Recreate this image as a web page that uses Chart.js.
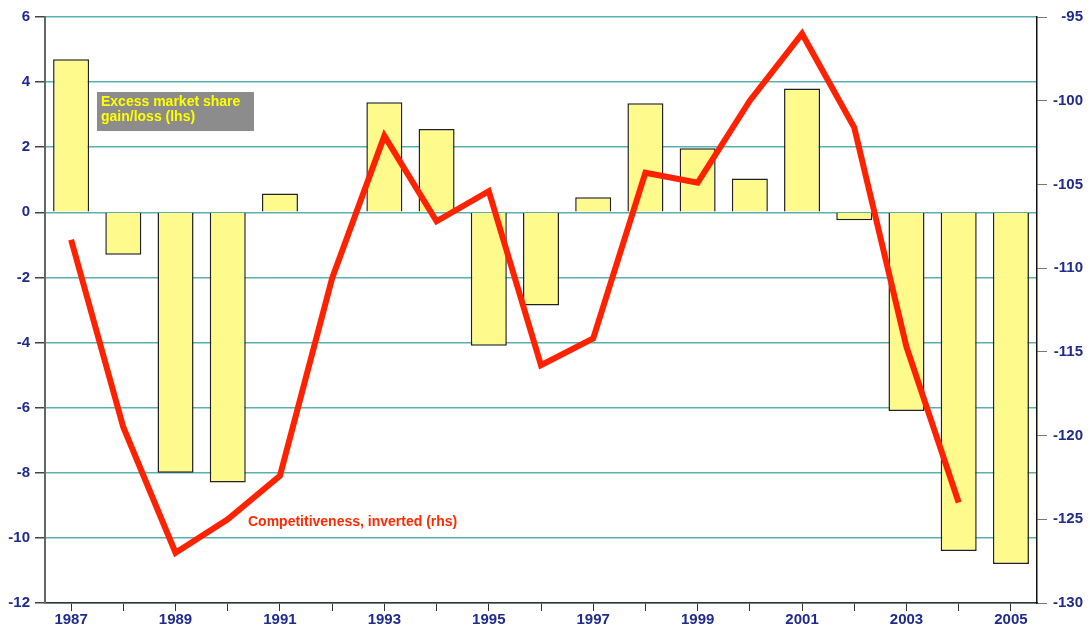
<!DOCTYPE html>
<html>
<head>
<meta charset="utf-8">
<script src="https://cdn.jsdelivr.net/npm/chart.js@4/dist/chart.umd.min.js"></script>
<style>
  body { margin: 0; background: #fff; }
  #wrap { width: 1090px; height: 628px; }
</style>
</head>
<body>
<div id="wrap"><canvas id="share-chart"></canvas></div>
<script>
// chart data
var years = ["1987", "1988", "1989", "1990", "1991", "1992", "1993", "1994", "1995", "1996",
  "1997", "1998", "1999", "2000", "2001", "2002", "2003", "2004", "2005"];
var excessShare = [4.7, -1.3, -8.0, -8.3, 0.58, -0.02, 3.38, 2.56, -4.1, -2.86,
  0.46, 3.35, 1.97, 1.04, 3.8, -0.24, -6.1, -10.4, -10.8];
var competitiveness = [-108.3, -119.5, -127.0, -125.0, -122.4, -110.6, -102.1, -107.2, -105.4, -115.8,
  -114.2, -104.3, -104.9, -100.0, -96.0, -101.6, -114.7, -124.0, null];
var shareLabel = ["Excess market share", "gain/loss (lhs)"];
var compLabel = "Competitiveness, inverted (rhs)";

var navy = '#1f2b8e';
var tickFont = { family: 'Liberation Sans, Arial, sans-serif', size: 15, weight: 'bold' };

//Draws the two text notes that stand in for a legend
var notesPlugin = {
  id: 'notes',
  afterDatasetsDraw: function(chart) {
    var ctx = chart.ctx;
    var area = chart.chartArea;
    ctx.save();
    ctx.font = 'bold 14px Liberation Sans, Arial, sans-serif';
    ctx.textBaseline = 'middle';

    //grey box with yellow text
    var bx = area.left + 52, by = area.top + 75;
    ctx.fillStyle = '#8c8c8c';
    ctx.fillRect(bx, by, 157, 39);
    ctx.fillStyle = '#ffff00';
    ctx.textAlign = 'left';
    ctx.fillText(shareLabel[0], bx + 4, by + 10);
    ctx.fillText(shareLabel[1], bx + 4, by + 25);

    //red label for the line
    ctx.fillStyle = '#ff2a00';
    ctx.fillText(compLabel, area.left + 203, area.top + 505);
    ctx.restore();
  }
};

var ctx = document.getElementById("share-chart").getContext('2d');
var shareChart = new Chart(ctx, {
  data: {
    labels: years,
    datasets: [{
      type: 'line',
      label: compLabel,
      data: competitiveness,
      yAxisID: 'y2',
      borderColor: '#ff2200',
      borderWidth: 6,
      pointRadius: 0,
      tension: 0,
      spanGaps: false,
      order: 0
    }, {
      type: 'bar',
      label: shareLabel.join(' '),
      data: excessShare,
      yAxisID: 'y',
      backgroundColor: '#fffa8c',
      borderColor: '#222',
      borderWidth: 1.5,
      barPercentage: 0.69,
      categoryPercentage: 1.0,
      order: 1
    }]
  },
  options: {
    responsive: true,
    maintainAspectRatio: false,
    animation: false,
    layout: { padding: { top: 17, right: 7, left: 0, bottom: 0 } },
    plugins: {
      legend: { display: false },
      tooltip: { enabled: false }
    },
    scales: {
      x: {
        type: 'category',
        offset: true,
        grid: { offset: false, drawOnChartArea: false, tickLength: 8, tickColor: '#333' },
        border: { color: '#333', width: 1.5 },
        ticks: {
          autoSkip: false,
          maxRotation: 0,
          padding: 0,
          color: navy,
          font: tickFont,
          callback: function(val, i) { return i % 2 === 0 ? this.getLabelForValue(val) : ''; }
        },
        afterFit: function(scale) { scale.height = 25; }
      },
      y: {
        position: 'left',
        min: -12,
        max: 6,
        grid: { color: '#5aafaf', lineWidth: 1.5, tickLength: 10, tickColor: '#444' },
        border: { color: '#666', width: 2 },
        ticks: { stepSize: 2, padding: 5, color: navy, font: tickFont },
        afterFit: function(scale) { scale.width = 45; }
      },
      y2: {
        position: 'right',
        min: -130,
        max: -95,
        grid: { drawOnChartArea: false, tickLength: 10, tickColor: '#777' },
        border: { color: '#111', width: 1.5 },
        ticks: { stepSize: 5, padding: 5, crossAlign: 'far', color: navy, font: tickFont },
        afterFit: function(scale) { scale.width = 46; }
      }
    }
  },
  plugins: [notesPlugin]
});
</script>
</body>
</html>
